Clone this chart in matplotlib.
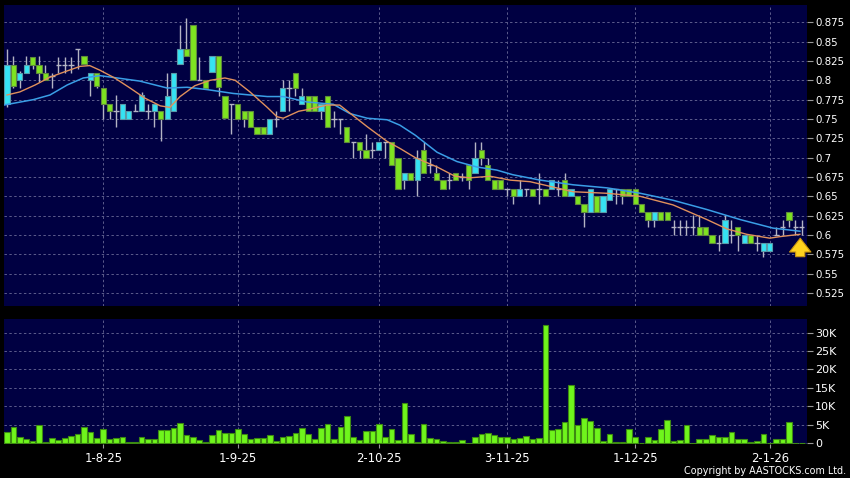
import matplotlib
matplotlib.use("Agg")
import matplotlib.pyplot as plt
import numpy as np

# daily candles, index 0 = first trading day shown
opens = [0.770, 0.820, 0.800, 0.810, 0.830, 0.820, 0.810, 0.805, 0.820, 0.820,
         0.820, 0.840, 0.831, 0.800, 0.810, 0.790, 0.770, 0.760, 0.750, 0.750,
         0.760, 0.760, 0.760, 0.760, 0.760, 0.750, 0.760, 0.821, 0.841, 0.871,
         0.800, 0.800, 0.811, 0.831, 0.780, 0.770, 0.770, 0.760, 0.760, 0.740,
         0.740, 0.730, 0.750, 0.760, 0.790, 0.810, 0.770, 0.780, 0.780, 0.760,
         0.780, 0.750, 0.750, 0.740, 0.720, 0.720, 0.710, 0.710, 0.710, 0.720,
         0.720, 0.700, 0.671, 0.680, 0.671, 0.710, 0.690, 0.680, 0.671, 0.671,
         0.680, 0.675, 0.690, 0.680, 0.710, 0.690, 0.671, 0.671, 0.660, 0.660,
         0.650, 0.660, 0.660, 0.660, 0.660, 0.660, 0.660, 0.671, 0.650, 0.650,
         0.640, 0.630, 0.650, 0.630, 0.645, 0.660, 0.660, 0.660, 0.660, 0.640,
         0.630, 0.620, 0.630, 0.630, 0.610, 0.610, 0.610, 0.610, 0.610, 0.610,
         0.600, 0.590, 0.590, 0.600, 0.610, 0.590, 0.600, 0.590, 0.580, 0.580,
         0.600, 0.610, 0.630, 0.610, 0.610]
closes = [0.820, 0.792, 0.810, 0.820, 0.820, 0.810, 0.800, 0.805, 0.820, 0.820,
          0.820, 0.840, 0.821, 0.810, 0.792, 0.770, 0.760, 0.760, 0.770, 0.760,
          0.760, 0.781, 0.760, 0.770, 0.750, 0.780, 0.810, 0.841, 0.831, 0.800,
          0.800, 0.790, 0.831, 0.791, 0.751, 0.770, 0.750, 0.750, 0.740, 0.730,
          0.730, 0.750, 0.750, 0.790, 0.790, 0.790, 0.780, 0.760, 0.760, 0.770,
          0.740, 0.750, 0.750, 0.720, 0.720, 0.710, 0.700, 0.710, 0.720, 0.720,
          0.690, 0.660, 0.680, 0.671, 0.700, 0.680, 0.690, 0.671, 0.660, 0.671,
          0.671, 0.675, 0.671, 0.700, 0.700, 0.671, 0.660, 0.660, 0.660, 0.650,
          0.660, 0.660, 0.650, 0.660, 0.650, 0.671, 0.660, 0.650, 0.660, 0.640,
          0.630, 0.660, 0.630, 0.650, 0.660, 0.660, 0.650, 0.650, 0.640, 0.630,
          0.620, 0.630, 0.620, 0.620, 0.610, 0.610, 0.610, 0.610, 0.600, 0.600,
          0.590, 0.590, 0.620, 0.600, 0.600, 0.600, 0.590, 0.590, 0.590, 0.590,
          0.600, 0.610, 0.620, 0.610, 0.610]
highs = [0.840, 0.832, 0.812, 0.832, 0.830, 0.832, 0.820, 0.810, 0.830, 0.830,
         0.830, 0.840, 0.831, 0.810, 0.810, 0.790, 0.770, 0.781, 0.770, 0.760,
         0.770, 0.785, 0.770, 0.770, 0.760, 0.810, 0.810, 0.871, 0.880, 0.871,
         0.830, 0.800, 0.831, 0.831, 0.780, 0.770, 0.770, 0.760, 0.760, 0.740,
         0.740, 0.750, 0.760, 0.800, 0.800, 0.810, 0.790, 0.780, 0.780, 0.770,
         0.780, 0.760, 0.750, 0.740, 0.720, 0.720, 0.730, 0.720, 0.720, 0.720,
         0.720, 0.700, 0.680, 0.680, 0.710, 0.720, 0.700, 0.690, 0.671, 0.680,
         0.680, 0.680, 0.690, 0.720, 0.720, 0.700, 0.671, 0.671, 0.660, 0.660,
         0.671, 0.660, 0.660, 0.680, 0.660, 0.671, 0.671, 0.680, 0.660, 0.650,
         0.640, 0.660, 0.650, 0.650, 0.660, 0.660, 0.660, 0.660, 0.660, 0.640,
         0.630, 0.630, 0.630, 0.630, 0.620, 0.620, 0.620, 0.626, 0.626, 0.610,
         0.600, 0.600, 0.626, 0.620, 0.610, 0.600, 0.600, 0.600, 0.590, 0.590,
         0.610, 0.620, 0.630, 0.620, 0.620]
lows = [0.765, 0.790, 0.790, 0.810, 0.815, 0.798, 0.800, 0.790, 0.810, 0.810,
        0.810, 0.815, 0.821, 0.780, 0.790, 0.750, 0.750, 0.740, 0.750, 0.750,
        0.760, 0.760, 0.750, 0.740, 0.721, 0.750, 0.760, 0.821, 0.831, 0.800,
        0.800, 0.790, 0.811, 0.780, 0.751, 0.730, 0.750, 0.740, 0.740, 0.730,
        0.730, 0.730, 0.740, 0.760, 0.760, 0.780, 0.770, 0.760, 0.760, 0.750,
        0.740, 0.740, 0.730, 0.720, 0.700, 0.700, 0.700, 0.700, 0.710, 0.700,
        0.690, 0.660, 0.660, 0.671, 0.650, 0.680, 0.680, 0.671, 0.660, 0.660,
        0.671, 0.670, 0.660, 0.680, 0.690, 0.671, 0.660, 0.660, 0.650, 0.640,
        0.650, 0.650, 0.650, 0.640, 0.650, 0.660, 0.650, 0.650, 0.650, 0.640,
        0.610, 0.630, 0.630, 0.630, 0.645, 0.640, 0.640, 0.650, 0.640, 0.630,
        0.611, 0.611, 0.620, 0.620, 0.600, 0.600, 0.600, 0.600, 0.600, 0.600,
        0.590, 0.580, 0.590, 0.590, 0.580, 0.590, 0.590, 0.580, 0.572, 0.580,
        0.600, 0.600, 0.610, 0.600, 0.600]
# volume in thousands of shares
volume_k = [3.0, 4.3, 1.6, 1.0, 0.5, 4.9, 0.2, 1.3, 0.8, 1.3,
            1.9, 2.4, 4.3, 3.0, 1.4, 3.8, 1.1, 1.4, 1.7, 0.3,
            0.3, 1.6, 1.1, 1.1, 3.6, 3.4, 4.2, 5.5, 2.3, 1.6,
            0.8, 0.3, 2.3, 3.4, 2.8, 2.8, 3.7, 2.5, 1.0, 1.3,
            1.3, 2.3, 0.5, 1.7, 2.0, 2.6, 4.1, 2.4, 1.1, 4.1,
            5.3, 1.1, 4.4, 7.4, 1.5, 0.8, 3.2, 3.2, 5.1, 1.6,
            3.8, 0.8, 10.9, 2.5, 0.3, 5.1, 1.3, 1.0, 0.5, 0.4,
            0.3, 0.8, 0.1, 1.5, 2.5, 2.6, 2.1, 1.5, 1.5, 1.0,
            1.3, 1.9, 1.0, 1.4, 32.1, 3.6, 3.8, 5.8, 15.7, 4.8,
            6.9, 5.9, 4.1, 0.5, 2.4, 0.3, 0.4, 3.7, 1.6, 0.1,
            1.7, 0.7, 3.7, 6.3, 0.5, 0.8, 4.8, 0.1, 1.2, 1.2,
            2.2, 1.6, 1.5, 3.0, 1.2, 1.2, 0.2, 0.5, 2.5, 0.1,
            1.2, 1.2, 5.6, 0.0, 0.0]

# moving averages (day index, value)
ma_short_idx = [0, 2, 4.4, 6.7, 9, 11.4, 12.9, 14.5, 16.8, 19.2, 21.5, 23.9, 25.4,
                27, 29.3, 31.7, 34, 35.6, 37.9, 40.6, 42.1, 43.1, 45.5, 46.8, 49.9,
                51.9, 53.9, 56.2, 59.3, 61.3, 63.7, 67.1, 69.9, 72.2, 75.4, 78.5,
                81.6, 84.7, 88.3, 93.6, 98.8, 103.9, 109.2, 112.3, 115.4, 119,
                120.6, 123.7]
ma_short_val = [0.781, 0.785, 0.794, 0.804, 0.811, 0.818, 0.819, 0.813, 0.803, 0.790,
                0.777, 0.767, 0.765, 0.779, 0.793, 0.800, 0.803, 0.800, 0.785, 0.765,
                0.753, 0.751, 0.760, 0.762, 0.768, 0.768, 0.755, 0.740, 0.721, 0.712,
                0.700, 0.688, 0.676, 0.674, 0.676, 0.671, 0.669, 0.663, 0.656, 0.654,
                0.650, 0.639, 0.620, 0.608, 0.601, 0.596, 0.598, 0.601]
ma_long_idx = [-0.5, 4.1, 6.7, 9.4, 11.9, 14.5, 17.2, 20.7, 25, 28.1, 31.2, 35.3,
               40.6, 43.1, 46.8, 50.9, 53.5, 56.2, 59.3, 61.3, 63.7, 67.1, 70.2,
               73.3, 76.4, 78.9, 83.2, 88.3, 93.6, 98.8, 103.9, 109.2, 114.4,
               119.5, 123.7]
ma_long_val = [0.768, 0.775, 0.781, 0.794, 0.803, 0.806, 0.803, 0.799, 0.790, 0.791,
               0.788, 0.783, 0.779, 0.779, 0.772, 0.769, 0.757, 0.751, 0.749, 0.742,
               0.729, 0.707, 0.695, 0.688, 0.684, 0.678, 0.671, 0.665, 0.661, 0.654,
               0.645, 0.633, 0.620, 0.609, 0.605]

date_idx = [15, 36, 58, 78, 98, 119]
date_labels = ["1-8-25", "1-9-25", "2-10-25", "3-11-25", "1-12-25", "2-1-26"]
price_ticks = [0.525, 0.55, 0.575, 0.6, 0.625, 0.65, 0.675, 0.7, 0.725, 0.75,
               0.775, 0.8, 0.825, 0.85, 0.875]
price_labels = ["0.525", "0.55", "0.575", "0.6", "0.625", "0.65", "0.675", "0.7",
                "0.725", "0.75", "0.775", "0.8", "0.825", "0.85", "0.875"]
vol_ticks = [0, 5, 10, 15, 20, 25, 30]
vol_labels = ["0", "5K", "10K", "15K", "20K", "25K", "30K"]

NAVY = "#000042"
GRID = "#5c5c8c"
UP = "#35e3f3"
DOWN = "#7ee321"
VOLC = "#6ff51c"
WICK = "#b4b4c4"

fig = plt.figure(figsize=(8.5, 4.78), dpi=100, facecolor="black")
W, H = 850.0, 478.0
ax1 = fig.add_axes([4 / W, 1 - 305.5 / H, 802.7 / W, 300.5 / H])
ax2 = fig.add_axes([4 / W, 1 - 444 / H, 802.7 / W, 125 / H])

o = np.array(opens)
c = np.array(closes)
hi = np.array(highs)
lo = np.array(lows)
x = np.arange(len(o))

for ax in (ax1, ax2):
    ax.set_facecolor(NAVY)
    for s in ax.spines.values():
        s.set_visible(False)
    ax.set_xlim(-0.47, 124.76)
    ax.set_xticks(date_idx)
    ax.grid(True, color=GRID, linestyle=(0, (2.5, 2.5)), linewidth=0.7)
    ax.set_axisbelow(True)
    ax.yaxis.tick_right()
    ax.tick_params(axis="y", colors="#9a9a9a", labelcolor="white", length=4,
                   width=0.8, pad=2)

# price panel
ax1.vlines(x, lo, hi, color=WICK, linewidth=1, zorder=2)
up = c > o
down = c < o
flat = c == o
bw = 0.82
ax1.bar(x[up], (c - o)[up], bottom=o[up], width=bw, color=UP,
        edgecolor="#5a9aa8", linewidth=0.8, zorder=3)
ax1.bar(x[down], (o - c)[down], bottom=c[down], width=bw, color=DOWN,
        edgecolor="#5f8a3c", linewidth=0.8, zorder=3)
ax1.hlines(c[flat], x[flat] - bw / 2, x[flat] + bw / 2, color=WICK,
           linewidth=1, zorder=3)
ax1.plot(ma_long_idx, ma_long_val, color="#3a9ee6", linewidth=1.1, zorder=4)
ax1.plot(ma_short_idx, ma_short_val, color="#e0905c", linewidth=1.0, zorder=4)

ax1.set_ylim(0.509, 0.8973)
ax1.set_yticks(price_ticks)
ax1.set_yticklabels(price_labels, fontsize=7.4)
ax1.tick_params(axis="x", length=0, labelbottom=False)

# arrow marking the latest day
ax1.annotate("", xy=(123.75, 0.5995), xytext=(123.75, 0.5685),
             arrowprops=dict(arrowstyle="simple,head_width=1.4,head_length=0.9,tail_width=0.6",
                             fc="#ffd21e", ec="#c99410", lw=0.8, mutation_scale=11),
             annotation_clip=False, zorder=5)

# volume panel
ax2.bar(x, volume_k, width=0.88, color=VOLC, edgecolor="#3d8a12",
        linewidth=0.8, zorder=3)
ax2.set_ylim(-0.27, 33.7)
ax2.set_yticks(vol_ticks)
ax2.set_yticklabels(vol_labels, fontsize=8)
ax2.set_xticklabels(date_labels, fontsize=8.4, color="white")
ax2.tick_params(axis="x", colors="#9a9a9a", labelcolor="white", length=3,
                width=0.8, pad=2.5)

fig.text(846 / W, 1 - 471.5 / H, "Copyright by AASTOCKS.com Ltd.", color="white",
         fontsize=6.9, ha="right", va="center")

fig.savefig("out.png", dpi=100, facecolor="black")
